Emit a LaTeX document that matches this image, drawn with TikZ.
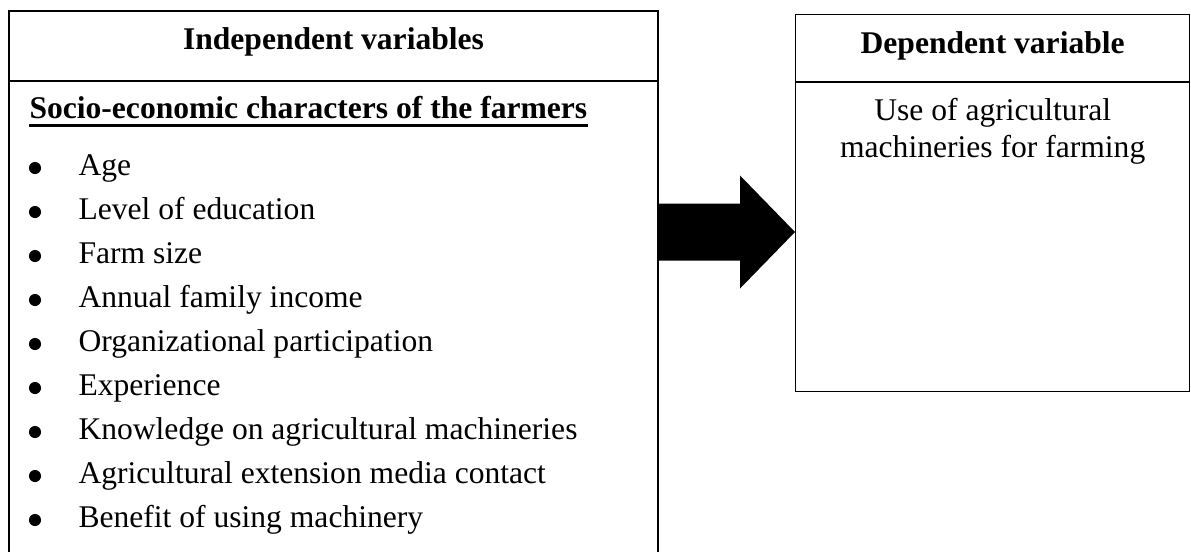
\documentclass[tikz,border=0pt]{standalone}
\usepackage{fontspec}
\setmainfont{Liberation Serif}
\usetikzlibrary{calc}

\begin{document}
\begin{tikzpicture}[x=0.38pt,y=-0.38pt,
  txt/.style={inner sep=0pt,font=\fontsize{12}{14}\selectfont},
  hdr/.style={inner sep=0pt,font=\fontsize{12}{14}\selectfont\bfseries},
  dot/.style={circle,fill=black,inner sep=0pt,minimum size=4.6pt}]
\useasboundingbox (0,0) rectangle (1191,551);
% Left box: independent variables (open at the bottom)
\node[minimum width=246.24pt,minimum height=205.2pt,inner sep=0pt,anchor=north west] (lbox) at (9,11) {};
\draw[line width=0.5pt] (lbox.south west) -- (lbox.north west) -- (lbox.north east) -- (lbox.south east);
\draw[line width=0.5pt] (lbox.west |- 0,81) -- (lbox.east |- 0,81);
\node[hdr,anchor=base] (indep) at (lbox.north |- 0,50) {Independent variables};
\node[hdr,anchor=base west] (socio) at (29,118) {Socio-economic characters of the farmers};
\draw[line width=1.1pt] ([yshift=-2.7pt]socio.base west) -- ([yshift=-2.7pt]socio.base east);
\foreach \t [count=\i] in {Age,Level of education,Farm size,Annual family income,Organizational participation,Experience,Knowledge on agricultural machineries,Agricultural extension media contact,Benefit of using machinery}{
  \node[dot] (bul\i) at (35,124+44*\i) {};
  \node[txt,anchor=base west] (item\i) at (78,131+44*\i) {\t};
}
% Right box: dependent variable
\node[draw,line width=0.5pt,minimum width=149.72pt,minimum height=143.26pt,inner sep=0pt,anchor=north west] (dep) at (795,14) {};
\draw[line width=0.5pt] (dep.west |- 0,82) -- (dep.east |- 0,82);
\node[hdr,anchor=base] (depttl) at (dep.north |- 0,53) {Dependent variable};
\node[txt,anchor=base] (use1) at (dep.north |- 0,120) {Use of agricultural};
\node[txt,anchor=base] (use2) at (dep.north |- 0,157) {machineries for farming};
% Block arrow between the boxes
\coordinate (a0) at (lbox.east |- 0,232);
\coordinate (a1) at (dep.west |- 0,232);
\fill ($(a0)+(0,-28.5)$) -- ($(a1)+(-55,-28.5)$) -- ($(a1)+(-55,-56.5)$) -- (a1)
  -- ($(a1)+(-55,56.5)$) -- ($(a1)+(-55,28.5)$) -- ($(a0)+(0,28.5)$) -- cycle;
\end{tikzpicture}
\end{document}
